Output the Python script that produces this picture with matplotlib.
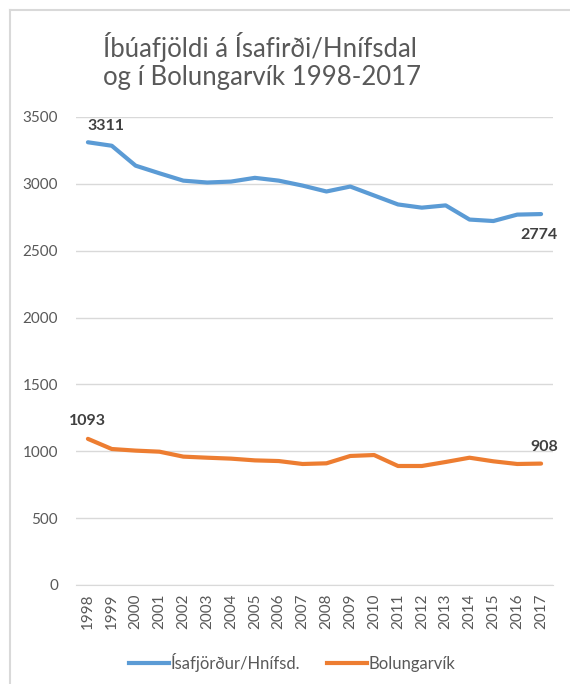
import numpy as np
import matplotlib
matplotlib.use("Agg")
import matplotlib.pyplot as plt
from matplotlib.lines import Line2D

# ---------------------------------------------------------
# Data
# ---------------------------------------------------------
years = [str(y) for y in range(1998, 2018)]
isafjordur = [3311, 3285, 3136, 3079, 3024, 3010, 3017, 3045, 3024, 2987,
              2943, 2980, 2913, 2846, 2822, 2839, 2733, 2722, 2770, 2774]
bolungarvik = [1093, 1017, 1005, 997, 960, 952, 945, 932, 927, 905,
               910, 965, 972, 890, 890, 920, 952, 925, 905, 908]
yticks = [0, 500, 1000, 1500, 2000, 2500, 3000, 3500]

color_isa = '#5B9BD5'
color_bol = '#ED7D31'
text_gray = '#595959'
label_gray = '#404040'
grid_gray = '#D9D9D9'

plt.rcParams['font.family'] = ['Lato', 'DejaVu Sans']

W, H = 570, 684
fig = plt.figure(figsize=(W / 100, H / 100), dpi=100)

# plot area in pixels: x 76..553, y 117..585
ax = fig.add_axes([76 / W, 1 - 585 / H, (553 - 76) / W, (585 - 117) / H])

x = np.arange(len(years))
ax.plot(x, isafjordur, color=color_isa, linewidth=3, solid_capstyle='round',
        solid_joinstyle='round')
ax.plot(x, bolungarvik, color=color_bol, linewidth=3, solid_capstyle='round',
        solid_joinstyle='round')

ax.set_xlim(-0.5, len(years) - 0.5)
ax.set_ylim(0, 3500)
ax.set_yticks(yticks)
ax.set_xticks(x)
ax.set_xticklabels(years, rotation=90)
ax.tick_params(axis='both', length=0, labelsize=11, labelcolor=text_gray)
ax.tick_params(axis='y', pad=13)
ax.tick_params(axis='x', pad=6)
ax.grid(axis='y', color=grid_gray, linewidth=1)
ax.set_axisbelow(True)
for s in ['top', 'right', 'left']:
    ax.spines[s].set_visible(False)
ax.spines['bottom'].set_color(grid_gray)

# data labels
lab = dict(fontsize=11.5, fontweight='bold', color=label_gray)
ax.annotate(str(isafjordur[0]), (x[0], isafjordur[0]), xytext=(0, 7),
            textcoords='offset points', ha='left', va='bottom', **lab)
ax.annotate(str(isafjordur[-1]), (x[-1], isafjordur[-1]), xytext=(-15, -10),
            textcoords='offset points', ha='left', va='top', **lab)
ax.annotate(str(bolungarvik[0]), (x[0], bolungarvik[0]), xytext=(0, 8),
            textcoords='offset points', ha='center', va='bottom', **lab)
ax.annotate(str(bolungarvik[-1]), (x[-1], bolungarvik[-1]), xytext=(-8, 7),
            textcoords='offset points', ha='left', va='bottom', **lab)

# title
fig.text(103 / W, 1 - 61 / H, 'Íbúafjöldi á Ísafirði/Hnífsdal\nog í Bolungarvík 1998-2017',
         ha='left', va='center', fontsize=18.5, color=text_gray,
         linespacing=1.2)

# legend
handles = [Line2D([], [], color=color_isa, linewidth=3),
           Line2D([], [], color=color_bol, linewidth=3)]
fig.legend(handles, ['Ísafjörður/Hnífsd.', 'Bolungarvík'], loc='center',
           bbox_to_anchor=(292 / W, 1 - 662 / H), ncol=2, frameon=False,
           fontsize=12, handlelength=2.4, handletextpad=0.1,
           columnspacing=1.6, labelcolor=text_gray)

# chart border (top and left edges visible in the crop)
fig.add_artist(Line2D([9.5 / W, 9.5 / W], [0, 1 - 10 / H], transform=fig.transFigure,
                      color=grid_gray, linewidth=1.5))
fig.add_artist(Line2D([9.5 / W, 1], [1 - 10 / H, 1 - 10 / H], transform=fig.transFigure,
                      color=grid_gray, linewidth=1.5))

fig.savefig('out.png', dpi=100, facecolor='white')
